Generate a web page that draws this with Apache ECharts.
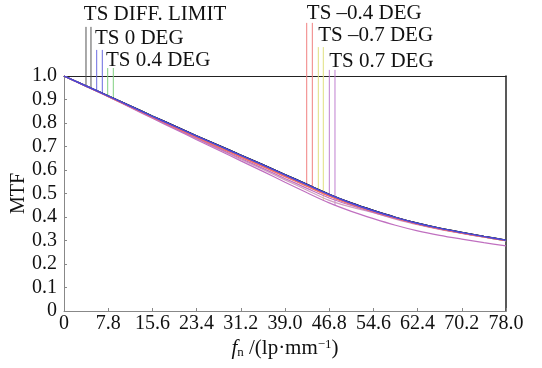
<!DOCTYPE html>
<html>
<head>
<meta charset="utf-8">
<script src="https://cdn.jsdelivr.net/npm/echarts@6/dist/echarts.min.js"></script>
<style>
  html, body { margin: 0; padding: 0; background: #fff; }
  #main { width: 542px; height: 368px; }
</style>
</head>
<body>
<div id="main"></div>
<script>
// spatial frequency samples (lp/mm)
const freq = [0, 3.9, 7.8, 11.7, 15.6, 19.5, 23.4, 27.3, 31.2, 35.1, 39, 42.9, 46.8, 50.7, 54.6, 58.5, 62.4, 66.3, 70.2, 74.1, 78];

// MTF curves, T and S for each field
const diffT = [1.000, 0.958, 0.916, 0.873, 0.830, 0.788, 0.746, 0.705, 0.664, 0.623, 0.581, 0.539, 0.497, 0.460, 0.428, 0.399, 0.374, 0.353, 0.335, 0.318, 0.302];
const diffS = [1.000, 0.958, 0.916, 0.873, 0.830, 0.788, 0.746, 0.705, 0.664, 0.623, 0.581, 0.539, 0.497, 0.460, 0.428, 0.399, 0.374, 0.353, 0.335, 0.318, 0.302];
const deg0T = [1.000, 0.958, 0.915, 0.872, 0.829, 0.787, 0.745, 0.704, 0.663, 0.622, 0.580, 0.538, 0.496, 0.459, 0.427, 0.398, 0.373, 0.352, 0.334, 0.317, 0.301];
const deg0S = [1.000, 0.957, 0.915, 0.872, 0.828, 0.786, 0.744, 0.703, 0.662, 0.621, 0.579, 0.537, 0.495, 0.458, 0.426, 0.398, 0.373, 0.352, 0.334, 0.317, 0.301];
const deg04T = [1.000, 0.957, 0.914, 0.871, 0.828, 0.785, 0.743, 0.702, 0.661, 0.620, 0.578, 0.536, 0.494, 0.457, 0.425, 0.397, 0.372, 0.351, 0.333, 0.316, 0.300];
const deg04S = [1.000, 0.957, 0.914, 0.870, 0.827, 0.784, 0.742, 0.701, 0.660, 0.619, 0.577, 0.535, 0.493, 0.456, 0.424, 0.396, 0.371, 0.350, 0.332, 0.315, 0.299];
const degM04T = [1.000, 0.957, 0.914, 0.870, 0.826, 0.783, 0.740, 0.698, 0.657, 0.616, 0.574, 0.532, 0.491, 0.455, 0.424, 0.396, 0.371, 0.350, 0.332, 0.316, 0.300];
const degM04S = [1.000, 0.957, 0.913, 0.869, 0.825, 0.781, 0.738, 0.696, 0.655, 0.614, 0.572, 0.530, 0.489, 0.453, 0.423, 0.395, 0.370, 0.349, 0.331, 0.315, 0.299];
const degM07T = [1.000, 0.957, 0.913, 0.869, 0.825, 0.782, 0.739, 0.697, 0.656, 0.615, 0.573, 0.531, 0.490, 0.454, 0.423, 0.395, 0.370, 0.349, 0.331, 0.315, 0.299];
const degM07S = [1.000, 0.956, 0.913, 0.868, 0.822, 0.778, 0.733, 0.689, 0.645, 0.602, 0.558, 0.514, 0.471, 0.442, 0.418, 0.391, 0.367, 0.347, 0.330, 0.314, 0.299];
const deg07T = [1.000, 0.957, 0.913, 0.868, 0.823, 0.779, 0.735, 0.692, 0.649, 0.607, 0.564, 0.522, 0.481, 0.449, 0.420, 0.393, 0.369, 0.348, 0.331, 0.315, 0.299];
const deg07S = [1.000, 0.956, 0.912, 0.866, 0.820, 0.775, 0.729, 0.684, 0.639, 0.594, 0.548, 0.503, 0.460, 0.424, 0.393, 0.365, 0.341, 0.322, 0.306, 0.291, 0.277];

const xTicks = ['0', '7.8', '15.6', '23.4', '31.2', '39.0', '46.8', '54.6', '62.4', '70.2', '78.0'];
const yTicks = ['0', '0.1', '0.2', '0.3', '0.4', '0.5', '0.6', '0.7', '0.8', '0.9', '1.0'];

// legend marker lines: x, bottom (on curve), top
const markX = [3.88, 4.76, 5.77, 6.76, 7.71, 8.70, 42.83, 43.82, 44.88, 45.76, 46.82, 47.82];
const markBottom = [0.959, 0.950, 0.938, 0.927, 0.917, 0.906, 0.540, 0.529, 0.515, 0.470, 0.490, 0.450];
const markTop = [1.209, 1.209, 1.111, 1.111, 1.034, 1.034, 1.226, 1.226, 1.123, 1.123, 1.026, 1.026];
const markColor = ['#555555', '#555555', '#6a6ae0', '#6a6ae0', '#80d080', '#80d080',
                   '#f08080', '#f08080', '#e0e080', '#e0e080', '#c080d0', '#c080d0'];

// legend labels: left x, centre y
const labelText = ['TS DIFF. LIMIT', 'TS 0 DEG', 'TS 0.4 DEG', 'TS \u20130.4 DEG', 'TS \u20130.7 DEG', 'TS 0.7 DEG'];
const labelX = [3.5, 5.45, 7.4, 42.85, 44.85, 46.8];
const labelY = [1.262, 1.158, 1.064, 1.268, 1.174, 1.06];

const serif = "'Liberation Serif', 'DejaVu Serif', serif";

function pairs(ys) {
  return freq.map((x, i) => [x, ys[i]]);
}

function curve(name, ys, color) {
  return {
    name: name,
    type: 'line',
    data: pairs(ys),
    showSymbol: false,
    smooth: 0.3,
    lineStyle: { color: color, width: 1.2 },
    z: 3
  };
}

let myChart = echarts.init(document.getElementById('main'));

let option = {
  animation: false,
  backgroundColor: '#fff',
  grid: { left: 64, right: 36, top: 76, bottom: 57, containLabel: false, outerBoundsMode: 'none' },
  xAxis: [
    {
      type: 'value',
      min: 0, max: 78, interval: 7.8,
      axisLine: { lineStyle: { color: '#888', width: 1 } },
      axisTick: { inside: true, length: 3, lineStyle: { color: '#888' } },
      splitLine: { show: false },
      axisLabel: {
        color: '#111', fontFamily: serif, fontSize: 20, margin: 3,
        formatter: (v) => xTicks[Math.round(v / 7.8)]
      },
      name: '{i|f}{sub|n}{n| /(lp\u00b7mm}{sup|\u22121}{n|)}',
      nameLocation: 'middle',
      nameGap: 27,
      nameMoveOverlap: false,
      nameTextStyle: {
        rich: {
          i: { fontFamily: serif, fontStyle: 'italic', fontSize: 21, color: '#111' },
          sub: { fontFamily: serif, fontSize: 13, color: '#111', verticalAlign: 'bottom', padding: [8, 0, 0, 0] },
          n: { fontFamily: serif, fontSize: 21, color: '#111' },
          sup: { fontFamily: serif, fontSize: 13, color: '#111', verticalAlign: 'top', padding: [0, 0, 8, 0] }
        }
      }
    },
    {
      type: 'value', position: 'top',
      min: 0, max: 78,
      axisLine: { show: true, onZero: false, lineStyle: { color: '#222', width: 1.2 } },
      axisTick: { show: false }, axisLabel: { show: false }, splitLine: { show: false }
    }
  ],
  yAxis: [
    {
      type: 'value',
      min: 0, max: 1, interval: 0.1,
      axisLine: { show: true, onZero: false, lineStyle: { color: '#888', width: 1 } },
      axisTick: { show: true, inside: true, length: 3, lineStyle: { color: '#888' } },
      splitLine: { show: false },
      axisLabel: {
        color: '#111', fontFamily: serif, fontSize: 20, margin: 7,
        formatter: (v) => yTicks[Math.round(v * 10)]
      },
      name: 'MTF',
      nameLocation: 'middle',
      nameGap: 35,
      nameMoveOverlap: false,
      nameTextStyle: { fontFamily: serif, fontSize: 20, color: '#111' }
    },
    {
      type: 'value', position: 'right',
      min: 0, max: 1,
      axisLine: { show: true, onZero: false, lineStyle: { color: '#222', width: 1.5 } },
      axisTick: { show: false }, axisLabel: { show: false }, splitLine: { show: false }
    }
  ],
  series: [
    curve('TS DIFF. LIMIT T', diffT, '#222222'),
    curve('TS DIFF. LIMIT S', diffS, '#222222'),
    curve('TS 0.4 DEG T', deg04T, '#60c060'),
    curve('TS 0.4 DEG S', deg04S, '#60c060'),
    curve('TS -0.7 DEG T', degM07T, '#d8d860'),
    curve('TS -0.7 DEG S', degM07S, '#d0a0c0'),
    curve('TS 0.7 DEG T', deg07T, '#c070c0'),
    curve('TS 0.7 DEG S', deg07S, '#c070c0'),
    curve('TS -0.4 DEG T', degM04T, '#f06060'),
    curve('TS -0.4 DEG S', degM04S, '#f07070'),
    curve('TS 0 DEG T', deg0T, '#3a3ad0'),
    curve('TS 0 DEG S', deg0S, '#4a4ad8'),
    {
      // vertical legend marker lines
      type: 'custom',
      clip: false,
      z: 2,
      data: markX.map((x, i) => [x, markBottom[i], markTop[i], i]),
      renderItem: (params, api) => {
        const i = api.value(3);
        const p0 = api.coord([api.value(0), api.value(1)]);
        const p1 = api.coord([api.value(0), api.value(2)]);
        return {
          type: 'line',
          shape: { x1: p0[0], y1: p0[1], x2: p1[0], y2: p1[1] },
          style: { stroke: markColor[i], lineWidth: 1 }
        };
      }
    },
    {
      // legend labels
      type: 'custom',
      clip: false,
      z: 4,
      data: labelX.map((x, i) => [x, labelY[i], i]),
      renderItem: (params, api) => {
        const i = api.value(2);
        const p = api.coord([api.value(0), api.value(1)]);
        return {
          type: 'text',
          x: p[0], y: p[1],
          style: {
            text: labelText[i],
            fill: '#111',
            font: '21px ' + serif,
            textAlign: 'left',
            textVerticalAlign: 'middle'
          }
        };
      }
    }
  ]
};

myChart.setOption(option);
</script>
</body>
</html>
